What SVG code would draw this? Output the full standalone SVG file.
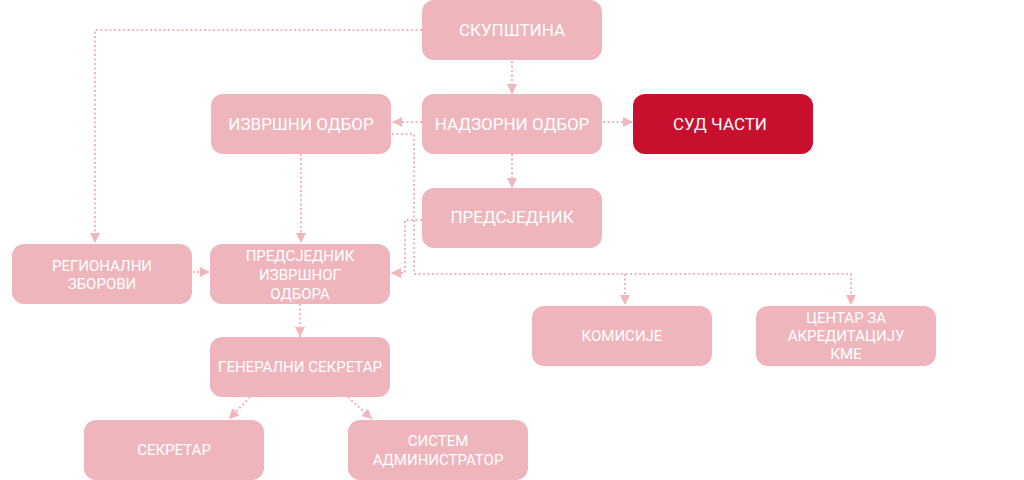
<svg xmlns="http://www.w3.org/2000/svg" width="1024" height="480" viewBox="0 0 1024 480">
<style>
.n rect{fill:#eeb6bc}
.n.red rect{fill:#c8102e}
.n text{fill:#ffffff;font-family:Roboto,"Liberation Sans",sans-serif;text-anchor:middle;dominant-baseline:central}
.big{font-size:17px}
.sm{font-size:15px}
.c path{fill:none;stroke:#f0b6bc;stroke-width:2;stroke-dasharray:2 2.5}
</style>
<defs>
<marker id="ah" viewBox="0 0 10 10" refX="10" refY="5" markerWidth="10" markerHeight="10" markerUnits="userSpaceOnUse" orient="auto">
<path d="M0,0 L10,5 L0,10 Z" fill="#f0b6bc"/>
</marker>
</defs>
<g class="c">
<path d="M422,30 H95 V243" marker-end="url(#ah)"/>
<path d="M512,61 V94" marker-end="url(#ah)"/>
<path d="M422,122 H392" marker-end="url(#ah)"/>
<path d="M603,122 H633" marker-end="url(#ah)"/>
<path d="M512,154 V188" marker-end="url(#ah)"/>
<path d="M301,154 V243" marker-end="url(#ah)"/>
<path d="M392,134 H414 V274 H851 V305" marker-end="url(#ah)"/>
<path d="M625,274 V305" marker-end="url(#ah)"/>
<path d="M422,220 H405 V273 H391" marker-end="url(#ah)"/>
<path d="M193,272 H210" marker-end="url(#ah)"/>
<path d="M300,304 V337" marker-end="url(#ah)"/>
<path d="M250,397 L229,419" marker-end="url(#ah)"/>
<path d="M348,397 L372,419" marker-end="url(#ah)"/>
</g>
<g id="skupstina" class="n"><rect x="422" y="0" width="180" height="60" rx="12"/><text class="big" x="512" y="30">СКУПШТИНА</text></g>
<g id="nadzorni" class="n"><rect x="422" y="94" width="180" height="60" rx="12"/><text class="big" x="512" y="124">НАДЗОРНИ ОДБОР</text></g>
<g id="izvrsni" class="n"><rect x="211" y="94" width="180" height="60" rx="12"/><text class="big" x="301" y="124">ИЗВРШНИ ОДБОР</text></g>
<g id="sud" class="n red"><rect x="633" y="94" width="180" height="60" rx="12"/><text class="big" x="720" y="124">СУД ЧАСТИ</text></g>
<g id="predsjednik" class="n"><rect x="422" y="188" width="180" height="60" rx="12"/><text class="big" x="512" y="217">ПРЕДСЈЕДНИК</text></g>
<g id="regionalni" class="n"><rect x="12" y="244" width="180" height="60" rx="12"/><text class="sm" x="102" y="266">РЕГИОНАЛНИ</text><text class="sm" x="102" y="284">ЗБОРОВИ</text></g>
<g id="predsjednik-io" class="n"><rect x="210" y="244" width="180" height="60" rx="12"/><text class="sm" x="300" y="256">ПРЕДСЈЕДНИК</text><text class="sm" x="300" y="275">ИЗВРШНОГ</text><text class="sm" x="300" y="294">ОДБОРА</text></g>
<g id="generalni" class="n"><rect x="210" y="337" width="180" height="60" rx="12"/><text class="sm" x="300" y="367">ГЕНЕРАЛНИ СЕКРЕТАР</text></g>
<g id="komisije" class="n"><rect x="532" y="306" width="180" height="60" rx="12"/><text class="sm" x="622" y="336">КОМИСИЈЕ</text></g>
<g id="centar" class="n"><rect x="756" y="306" width="180" height="60" rx="12"/><text class="sm" x="846" y="318">ЦЕНТАР ЗА</text><text class="sm" x="846" y="336">АКРЕДИТАЦИЈУ</text><text class="sm" x="846" y="354">КМЕ</text></g>
<g id="sekretar" class="n"><rect x="84" y="420" width="180" height="60" rx="12"/><text class="sm" x="174" y="450">СЕКРЕТАР</text></g>
<g id="sistem" class="n"><rect x="348" y="420" width="180" height="60" rx="12"/><text class="sm" x="438" y="441">СИСТЕМ</text><text class="sm" x="438" y="460">АДМИНИСТРАТОР</text></g>
</svg>
